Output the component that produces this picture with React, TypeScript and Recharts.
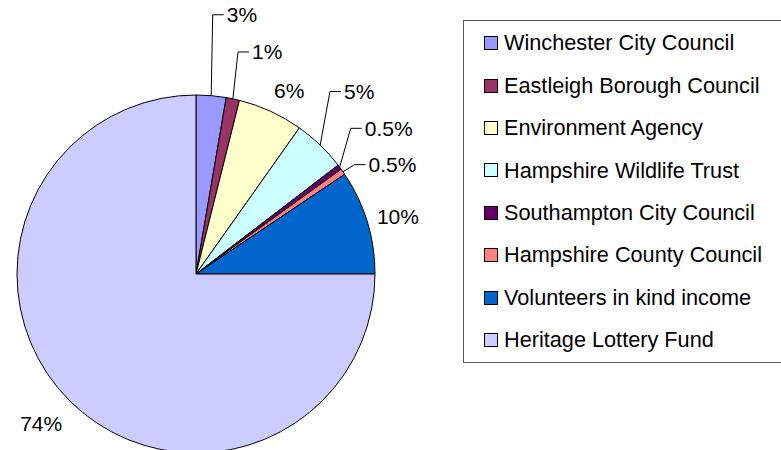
import { PieChart, Pie, Cell, Legend } from "recharts"

const sources = [
  "Winchester City Council",
  "Eastleigh Borough Council",
  "Environment Agency",
  "Hampshire Wildlife Trust",
  "Southampton City Council",
  "Hampshire County Council",
  "Volunteers in kind income",
  "Heritage Lottery Fund",
]
const shares = [2.7, 1.2, 5.9, 4.8, 0.45, 0.55, 9.4, 75]
const shareLabels = ["3%", "1%", "6%", "5%", "0.5%", "0.5%", "10%", "74%"]
const colors = ["#9999FF", "#993366", "#FFFFCC", "#CCFFFF", "#660066", "#FF8080", "#0066CC", "#CCCCFF"]

// labels that were dragged away from the pie get a leader line (text starts at the nudged point)
const hasLeader = [true, true, false, true, true, true, false, false]
const labelNudge: [number, number][] = [
  [13, -51], [13, -17.5], [6, 6], [3, -32], [1, -21], [1, 10], [2, 3], [-7, 2],
]

const data = sources.map((name, i) => ({ name, value: shares[i] }))

const FONT = "'Liberation Sans', Arial, sans-serif"
const RADIAN = Math.PI / 180

const renderLabel = (props: any) => {
  const { cx, cy, midAngle, outerRadius, index } = props
  const cos = Math.cos(-midAngle * RADIAN)
  const sin = Math.sin(-midAngle * RADIAN)
  const r = outerRadius + 30
  const [dx, dy] = labelNudge[index]
  const tx = cx + r * cos + dx
  const ty = cy + r * sin + dy
  const txt = shareLabels[index]
  if (!hasLeader[index]) {
    return (
      <text key={index} x={tx} y={ty + 7.5} textAnchor="middle" fontSize={21} fontFamily={FONT} fill="#000">
        {txt}
      </text>
    )
  }
  const ex = cx + outerRadius * cos
  const ey = cy + outerRadius * sin
  return (
    <g key={index}>
      <polyline
        points={`${ex},${ey} ${tx - 14},${ty} ${tx - 3},${ty}`}
        fill="none"
        stroke="#000"
        strokeWidth={1}
      />
      <text x={tx} y={ty + 7.5} textAnchor="start" fontSize={21} fontFamily={FONT} fill="#000">
        {txt}
      </text>
    </g>
  )
}

const renderLegend = () => (
  <div
    style={{
      width: "100%",
      height: "100%",
      boxSizing: "border-box",
      border: "1px solid #555",
      background: "#fff",
      paddingTop: 1,
      fontFamily: FONT,
      fontSize: 21.7,
      color: "#000",
    }}
  >
    {sources.map((s, i) => (
      <div key={s} style={{ height: 42.4, display: "flex", alignItems: "center", paddingLeft: 20 }}>
        <span
          style={{
            display: "inline-block",
            width: 12,
            height: 12,
            border: "1px solid #000",
            background: colors[i],
            marginRight: 6,
          }}
        />
        <span style={{ whiteSpace: "nowrap", lineHeight: 1 }}>{s}</span>
      </div>
    ))}
  </div>
)

export default function App() {
  return (
    <div style={{ position: "absolute", left: 0, top: 0, width: 781, height: 450, overflow: "hidden", background: "#fff" }}>
      <PieChart width={781} height={450} margin={{ top: 0, right: 0, bottom: 0, left: 0 }}>
        <Pie
          data={data}
          dataKey="value"
          nameKey="name"
          cx={196}
          cy={274}
          outerRadius={179}
          startAngle={90}
          endAngle={-270}
          stroke="#000"
          strokeWidth={1}
          label={renderLabel}
          labelLine={false}
          isAnimationActive={false}
        >
          {data.map((d, i) => (
            <Cell key={d.name} fill={colors[i]} />
          ))}
        </Pie>
        <Legend
          content={renderLegend}
          layout="vertical"
          verticalAlign="top"
          align="right"
          wrapperStyle={{ position: "absolute", left: 463, top: 20, width: 330, height: 343 }}
        />
      </PieChart>
    </div>
  )
}
